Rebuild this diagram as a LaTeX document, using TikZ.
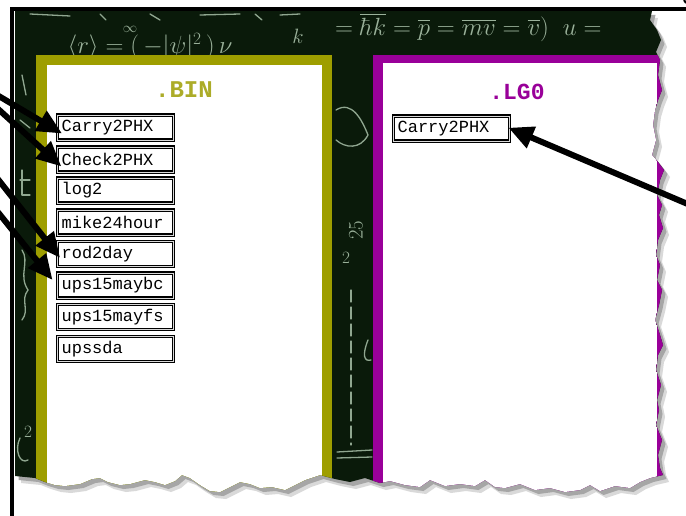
\documentclass[tikz,border=0pt]{standalone}
\usepackage{amsmath}
\usepackage{fontspec}
\setmonofont{Liberation Mono}
\usetikzlibrary{arrows.meta,calc}
\definecolor{board}{RGB}{10,26,10}
\definecolor{chalk}{RGB}{190,215,190}
\definecolor{olivebar}{RGB}{158,158,0}
\definecolor{olivetext}{RGB}{172,172,40}
\definecolor{purplebar}{RGB}{153,0,153}
\def\tornpath{(15,11) -- (652,11) -- (650,20) -- (657,30) -- (661,40) -- (656,52) -- (660,60) -- (658,75) -- (662,90) -- (658,100) -- (655,110) -- (653,125) -- (656,140) -- (652,155) -- (658,162) -- (664,170) -- (660,180) -- (657,195) -- (662,205) -- (659,215) -- (663,228) -- (658,240) -- (656,255) -- (660,265) -- (657,280) -- (662,290) -- (659,305) -- (655,320) -- (660,335) -- (663,345) -- (658,355) -- (656,370) -- (661,385) -- (657,400) -- (659,410) -- (656,425) -- (662,440) -- (658,455) -- (660,468) -- (663,475) -- (650,478) -- (640,482) -- (630,488) -- (615,486) -- (600,491) -- (590,485) -- (580,490) -- (565,492) -- (550,488) -- (535,490) -- (520,484) -- (505,488) -- (495,487) -- (485,480) -- (475,486) -- (460,484) -- (445,486) -- (430,480) -- (420,487) -- (405,485) -- (390,481) -- (380,483) -- (365,478) -- (350,482) -- (335,479) -- (320,475) -- (305,480) -- (295,485) -- (285,490) -- (272,487) -- (260,488) -- (250,484) -- (240,482) -- (230,487) -- (220,492) -- (210,491) -- (200,485) -- (190,478) -- (182,475) -- (175,481) -- (165,485) -- (155,482) -- (145,480) -- (130,484) -- (120,485) -- (108,482) -- (100,478) -- (92,479) -- (80,484) -- (65,486) -- (55,485) -- (45,482) -- (35,478) -- (25,477) -- (15,476) -- cycle}
\begin{document}
\begin{tikzpicture}[x=1pt,y=-1pt,
  filebox/.style={draw=black, line width=1.25pt, double=gray!30, double distance=0.8pt,
    fill=white, minimum width=116pt, minimum height=25pt, text width=108pt,
    inner xsep=4pt, inner ysep=0pt, align=left,
    font=\fontsize{17}{17}\selectfont\ttfamily, anchor=west},
  callout/.style={line width=6pt, -{Triangle[length=25pt,width=22pt]}},
  chalkline/.style={draw=chalk, line width=1.3pt, opacity=0.75, line cap=round},
  chalktext/.style={text=chalk, opacity=0.8, inner sep=0pt}]
\useasboundingbox (0,0) rectangle (686,516);
\fill[white] (0,0) rectangle (686,516);
% torn-edge shadow
\begin{scope}[shift={(6,7)}]
  \fill[gray!30] \tornpath;
\end{scope}
\begin{scope}[shift={(3.5,4)}]
  \fill[gray!70] \tornpath;
\end{scope}
% board and panels, clipped to torn edge
\begin{scope}
  \clip \tornpath;
  \fill[board] (0,0) rectangle (700,520);
  % chalk writing
  \node[chalktext, font=\fontsize{15}{15}\selectfont] at (130,29) {$\infty$};
  \node[chalktext, font=\fontsize{24}{24}\selectfont] at (150,47) {$\langle r\rangle = (\,-|\psi|^{2}\,)\,\nu$};
  \node[chalktext, font=\fontsize{20}{20}\selectfont] at (298,36) {$k$};
  \node[chalktext, font=\fontsize{24}{24}\selectfont, anchor=west] at (335,27)
    {$=\overline{\hbar k}=\overline{p}=\overline{mv}=\overline{v})\;\;u=$};
  \draw[chalkline] (30,14) -- (70,16) (100,14) -- (106,20) (150,14) -- (160,20) (200,15) -- (240,14) (255,14) -- (262,20) (280,15) -- (300,14);
  \draw[chalkline] (336,110) .. controls (352,100) and (362,120) .. (368,135) .. controls (360,150) and (345,148) .. (336,140);
  \node[chalktext, font=\fontsize{20}{20}\selectfont, rotate=90] at (356,230) {$25$};
  \node[chalktext, font=\fontsize{18}{18}\selectfont] at (346,258) {$2$};
  \draw[chalkline, dash pattern=on 12pt off 5pt] (351,290) -- (351,445);
  \draw[chalkline] (368,340) .. controls (362,355) and (364,362) .. (371,360);
  \draw[chalkline] (337,452) -- (372,450);
  \draw[chalkline] (337,458) -- (372,457);
  \draw[chalkline] (20,180) -- (30,180) (22,170) -- (22,195) (22,195) -- (30,195);
  \draw[chalkline] (22,250) .. controls (30,262) and (18,275) .. (28,290) .. controls (20,300) and (30,310) .. (22,320);
  \node[chalktext, font=\fontsize{16}{16}\selectfont] at (28,432) {$2$};
  \draw[chalkline] (20,438) .. controls (14,450) and (20,465) .. (28,460);
  \draw[chalkline] (22,75) -- (26,95) (20,120) -- (30,128);
  % left panel
  \fill[olivebar] (36,55) rectangle (332,500);
  \fill[white] (47,65) rectangle (322,500);
  % right panel
  \fill[purplebar] (373,55) rectangle (668,500);
  \fill[white] (383,63) rectangle (657,500);
\end{scope}
% frame lines
\draw[line width=4pt] (12,516) -- (12,9) -- (686,9);
\draw[line width=2pt] (684,0) -- (686,3);
% headers
\node[text=olivetext, font=\fontsize{24}{24}\selectfont\ttfamily\bfseries] (hbin) at (184,90) {.BIN};
\node[text=purplebar, font=\fontsize{23}{23}\selectfont\ttfamily\bfseries] (hlgo) at (517,92) {.LG0};
% file boxes
\node[filebox] (b1) at (57,127.5) {Carry2PHX};
\node[filebox] (b2) at (57,159.5) {Check2PHX};
\node[filebox] (b3) at (57,190.5) {log2};
\node[filebox] (b4) at (57,222.5) {mike24hour};
\node[filebox] (b5) at (57,254) {rod2day};
\node[filebox] (b6) at (57,285.5) {ups15maybc};
\node[filebox] (b7) at (57,317) {ups15mayfs};
\node[filebox] (b8) at (57,349) {upssda};
\node[filebox] (r1) at (393,128.5) {Carry2PHX};
% arrows
\coordinate (s1) at (-3,95);
\coordinate (s2) at (-3,108);
\coordinate (s3) at (-3,178);
\coordinate (s4) at (-3,211);
\coordinate (s5) at (690,205);
\draw[callout, shorten >=-6pt] (s1) -- ($(b1.west)+(0,3)$);
\draw[callout, shorten >=-6pt] (s2) -- ($(b2.west)+(0,3)$);
\draw[callout, shorten >=-5pt] (s3) -- (b5.west);
\draw[callout, shorten >=7pt] (s4) -- (b6.west);
\draw[callout, shorten >=-2pt] (s5) -- (r1.east);
\end{tikzpicture}
\end{document}
